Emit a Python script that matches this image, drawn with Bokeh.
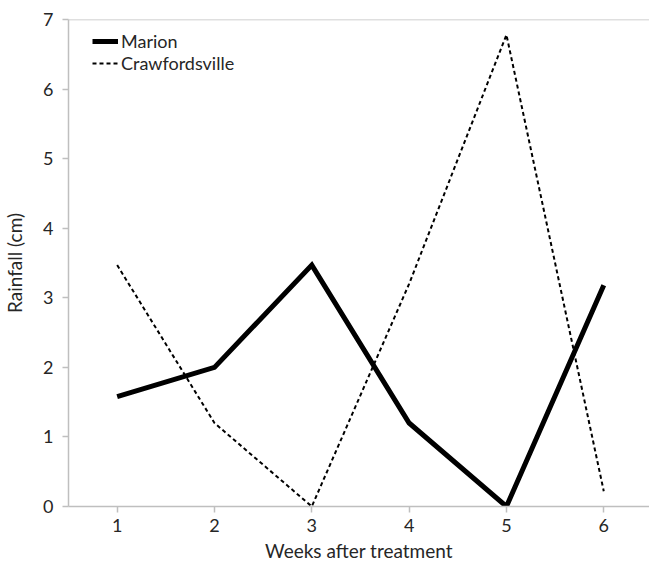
from bokeh.plotting import figure
from bokeh.models import Range1d, Legend, LegendItem, Span, FixedTicker
from bokeh.embed import file_html
from bokeh.resources import INLINE

weeks = [1, 2, 3, 4, 5, 6]
marion = [1.58, 2.0, 3.47, 1.2, 0.0, 3.18]
crawfordsville = [3.47, 1.2, 0.0, 3.2, 6.78, 0.22]
x_ticks = [1, 2, 3, 4, 5, 6]
y_ticks = [0, 1, 2, 3, 4, 5, 6, 7]

FONT = "Lato"
AXIS_COLOR = "#bfbfbf"
TEXT_COLOR = "#262626"

p = figure(width=649, height=564, output_backend="svg", toolbar_location=None,
           x_range=Range1d(0.5, 6.47), y_range=Range1d(0, 7),
           min_border_left=0, min_border_right=0, min_border_top=19, min_border_bottom=0)
p.outline_line_color = None
p.grid.grid_line_color = None
p.background_fill_color = "white"

r1 = p.line(weeks, marion, line_color="black", line_width=5, line_join="miter")
r2 = p.line(weeks, crawfordsville, line_color="black", line_width=2, line_dash="4 3")

p.add_layout(Span(location=7, dimension="width", line_color=AXIS_COLOR, line_width=1.5))

for ax in (p.xaxis[0], p.yaxis[0]):
    ax.axis_line_color = AXIS_COLOR
    ax.axis_line_width = 1.5
    ax.major_tick_line_color = AXIS_COLOR
    ax.major_tick_line_width = 1.5
    ax.major_tick_out = 6
    ax.major_tick_in = 0
    ax.minor_tick_line_color = None
    ax.major_label_text_font = FONT
    ax.major_label_text_font_size = "18px"
    ax.major_label_text_color = TEXT_COLOR
    ax.axis_label_text_font = FONT
    ax.axis_label_text_font_size = "19px"
    ax.axis_label_text_color = TEXT_COLOR
    ax.axis_label_text_font_style = "normal"

p.xaxis.ticker = FixedTicker(ticks=x_ticks)
p.yaxis.ticker = FixedTicker(ticks=y_ticks)
p.xaxis.axis_label = "Weeks after treatment"
p.yaxis.axis_label = "Rainfall (cm)"
p.xaxis.major_label_standoff = 6
p.xaxis.axis_label_standoff = 4
p.yaxis.major_label_standoff = 9
p.yaxis.axis_label_standoff = 14

legend = Legend(items=[LegendItem(label="Marion", renderers=[r1]),
                       LegendItem(label="Crawfordsville", renderers=[r2])],
                location=(24, 432), orientation="vertical",
                label_text_font=FONT, label_text_font_size="18px",
                label_text_color=TEXT_COLOR,
                glyph_width=26, glyph_height=18, label_height=18,
                label_standoff=3, spacing=0, padding=0, margin=0,
                border_line_color=None, background_fill_alpha=0)
p.add_layout(legend)

open("out.html", "w").write(file_html(p, INLINE))
